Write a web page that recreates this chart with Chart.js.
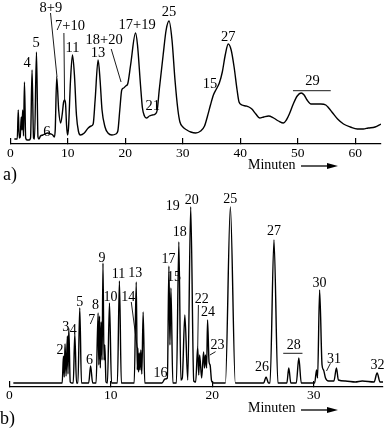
<!DOCTYPE html>
<html><head><meta charset="utf-8">
<script src="https://cdn.jsdelivr.net/npm/chart.js@4.4.1/dist/chart.umd.min.js"></script>
<style>
html,body{margin:0;padding:0;background:#fff;}
body{width:386px;height:428px;position:relative;overflow:hidden;font-family:"Liberation Serif",serif;color:#000;}
canvas{position:absolute;left:0;}
#ca{top:0;} #cb{top:190px;}
.t{position:absolute;white-space:nowrap;}
svg{position:absolute;left:0;}
</style></head><body>
<canvas id="ca" width="386" height="190"></canvas>
<canvas id="cb" width="386" height="238"></canvas>
<div class="t" style="left:248px;top:158px;font-size:14px;line-height:14px;">Minuten</div>
<div class="t" style="left:248px;top:401px;font-size:14px;line-height:14px;">Minuten</div>
<div class="t" style="left:3px;top:165px;font-size:18px;line-height:18px;">a)</div>
<div class="t" style="left:0px;top:409px;font-size:18px;line-height:18px;">b)</div>
<svg width="386" height="428" style="top:0;pointer-events:none">
  <line x1="301" y1="166" x2="330" y2="166" stroke="#000" stroke-width="1.3"/>
  <polygon points="327,163 338,166 327,169" fill="#000"/>
  <line x1="301" y1="410" x2="330" y2="410" stroke="#000" stroke-width="1.3"/>
  <polygon points="327,407 338,410 327,413" fill="#000"/>
</svg>
<script>
// ---- Panel a) : retention time (min) and detector signal ----
const timeA = [0.69,1.20,1.37,1.54,1.71,1.89,2.02,2.14,2.28,2.45,
2.66,2.91,3.26,3.51,3.77,4.03,4.20,4.54,4.80,4.97,
5.23,5.66,6.00,6.51,7.03,7.37,7.63,7.80,8.06,8.40,
8.74,9.00,9.26,9.43,9.60,9.77,9.94,10.11,10.46,10.80,
11.14,11.49,11.83,12.17,12.86,13.54,14.06,14.40,14.74,15.26,
15.60,15.94,16.46,16.97,17.66,18.34,18.69,19.03,19.37,19.71,
20.06,20.40,20.91,21.77,22.11,22.63,22.97,23.32,23.66,24.17,
24.69,25.20,25.54,25.89,26.57,27.09,27.60,28.11,28.63,29.14,
29.49,30.00,30.69,31.37,32.23,33.09,33.77,34.29,34.80,35.31,
35.83,36.34,36.86,37.37,37.89,38.40,38.91,39.43,39.77,40.29,
40.97,41.49,42.00,42.69,43.37,44.06,44.92,45.77,46.63,47.49,
48.00,48.52,49.20,49.89,50.57,51.09,51.60,52.29,53.14,54.00,
54.86,55.37,56.06,56.91,57.94,59.14,60.34,61.37,62.23,63.43,
64.46];
const signalA = [5,5,34,6,7,27,14,34,8,62,
6,4,4,6,74,6,5,92,7,5,
8,9,10,11,10,9,7,14,67,34,
21,29,42,44,40,19,9,16,64,89,
69,29,13,9,11,16,18,20,44,84,
64,34,17,11,9,10,13,34,54,56,
58,60,79,111,99,59,36,28,26,28,
29,30,34,54,89,114,123,104,64,34,
22,17,14,12,11,13,18,28,39,49,
55,61,72,89,100,94,77,54,42,39,
38,37,35,30,26,27,28,26,23,21,
24,30,40,48,51,49,44,40,40,40,
39,36,31,25,20,17,15,15,16,17,
20];
const peakTextA = ['4','5','6','8+9','7+10','11','13','18+20','17+19','21','25','15','27','29'];
const peakTimeA = [2.91,4.46,6.34,7.03,10.37,10.80,15.26,16.29,22.03,24.77,27.60,34.72,37.89,52.55];
const peakSignalA = [81,101,12,136,118,96,91,104,119,38,131.5,60,107,62.5];
const leaderFromTA = [6.98,9.31,17.54,49.15];
const leaderFromVA = [131,111,95,53.3];
const leaderToTA = [8.11,9.43,19.25,55.72];
const leaderToVA = [67,44,62,53.3];
const ticksA = [0,10,20,30,40,50,60];

// ---- Panel b) ----
const timeB = [0.39,4.98,5.21,5.33,5.41,5.49,5.59,5.72,5.78,5.86,
6.00,6.14,6.30,6.45,6.62,6.76,6.94,7.11,7.82,8.01,
8.21,8.55,8.75,8.82,8.89,8.97,9.05,9.14,9.23,9.33,
9.41,9.53,9.67,9.87,10.07,10.65,10.85,11.04,12.31,12.51,
12.61,12.67,12.74,12.81,12.88,12.96,13.06,13.19,13.35,15.05,
15.34,15.58,15.73,15.83,15.93,16.12,16.47,16.71,16.91,17.05,
17.30,17.59,17.88,18.18,18.37,18.57,18.67,18.76,18.96,19.15,
19.24,19.33,19.45,19.54,19.69,19.79,19.94,20.13,21.30,21.79,
22.28,25.07,25.31,25.55,25.70,26.09,26.48,27.36,27.55,27.75,
28.29,28.54,28.78,30.10,30.29,30.39,30.59,30.83,30.98,31.17,
31.47,32.00,32.25,32.44,33.13,34.11,34.79,35.96,36.26,36.55,
36.84];
const signalB = [4,4,4,31,10,43,11,51,13,59,
5,4,4,53,4,4,79,4,4,21,
4,4,74,22,71,19,65,27,124,27,
42,5,4,84,4,4,106,4,4,105,
17,39,15,34,17,37,13,75,4,4,
8,9,121,42,99,4,4,145,7,9,
72,7,180,6,5,40,12,32,9,35,
19,32,19,67,25,22,6,4,4,180,
4,4,10,4,4,147,4,4,19,4,
4,29,4,4,17,9,97,22,17,9,
6,6,19,7,6,5,6,5,14,5,
5];
const peakTextB = ['2','3','4','5','6','7','8','9','10','11','13','14','16','17','15','18','19','20','22','24','23','25','26','27','28','30','31','32'];
const peakTimeB = [4.98,5.57,6.30,6.94,7.90,8.11,8.48,9.14,9.97,10.75,12.41,11.73,14.90,15.70,16.22,16.81,16.12,17.98,18.96,19.59,20.52,21.79,24.92,26.09,28.05,30.59,32.00,36.30];
const peakSignalB = [37,60,57,85,26.5,67,81.5,129,90,113,113.5,90,14,128,110,155,181,187,88,74.5,42,188,20,156,42,104,28,22];
const leaderFromTB = [12.02,18.64,20.33,31.66,27.00];
const leaderFromVB = [85,82,35.3,23.7,33.7];
const leaderToTB = [12.61,18.57,19.77,31.27,28.90];
const leaderToVB = [39,40,32,16,33.7];
const ticksB = [0,10,20,30];

Chart.defaults.font.family = '"Liberation Serif", "Times New Roman", serif';
Chart.defaults.color = '#000';

const peakLabels = {
  id: 'peakLabels',
  afterDatasetsDraw(chart, args, o) {
    const ctx = chart.ctx, x = chart.scales.x, y = chart.scales.y;
    ctx.save();
    ctx.strokeStyle = '#000';
    ctx.lineWidth = 0.9;
    for (let i = 0; i < o.fromT.length; i++) {
      ctx.beginPath();
      ctx.moveTo(x.getPixelForValue(o.fromT[i]), y.getPixelForValue(o.fromV[i]));
      ctx.lineTo(x.getPixelForValue(o.toT[i]), y.getPixelForValue(o.toV[i]));
      ctx.stroke();
    }
    ctx.fillStyle = '#000';
    ctx.font = o.font;
    ctx.textAlign = 'center';
    ctx.textBaseline = 'middle';
    for (let i = 0; i < o.text.length; i++) {
      ctx.fillText(o.text[i], x.getPixelForValue(o.t[i]), y.getPixelForValue(o.v[i]));
    }
    ctx.restore();
  }
};

function makeChart(id, times, signals, yMax, xMax, ticks, axisH, pad, labelPad, lab) {
  return new Chart(document.getElementById(id), {
    type: 'line',
    data: { datasets: [{
      data: times.map((t, i) => ({ x: t, y: signals[i] })),
      borderColor: '#000', borderWidth: 1.4, pointRadius: 0,
      cubicInterpolationMode: 'monotone', fill: false
    }]},
    options: {
      responsive: false, maintainAspectRatio: false, animation: false,
      layout: { padding: pad },
      plugins: { legend: { display: false }, tooltip: { enabled: false }, peakLabels: lab },
      scales: {
        x: {
          type: 'linear', min: 0, max: xMax,
          afterBuildTicks: (s) => { s.ticks = ticks.map(v => ({ value: v })); },
          ticks: { color: '#000', font: { size: 13.5 }, padding: labelPad, maxRotation: 0, autoSkip: false },
          grid: { drawOnChartArea: false, drawTicks: true, tickLength: -6, color: '#000', lineWidth: 1.2 },
          border: { display: true, color: '#000', width: 1.3 },
          afterFit: (s) => { s.height = axisH; }
        },
        y: { display: false, min: 0, max: yMax }
      }
    },
    plugins: [peakLabels]
  });
}

makeChart('ca', timeA, signalA, 144, 64.46, ticksA, 46, { left: 5, right: 5, top: 0, bottom: 0 }, 7,
  { font: '14.5px "Liberation Serif", serif', text: peakTextA, t: peakTimeA, v: peakSignalA, fromT: leaderFromTA, fromV: leaderFromVA, toT: leaderToTA, toV: leaderToVA });
makeChart('cb', timeB, signalB, 197, 36.84, ticksB, 41, { left: 6, right: 3, top: 0, bottom: 0 }, 6,
  { font: '14px "Liberation Serif", serif', text: peakTextB, t: peakTimeB, v: peakSignalB, fromT: leaderFromTB, fromV: leaderFromVB, toT: leaderToTB, toV: leaderToVB });
</script>
</body></html>
